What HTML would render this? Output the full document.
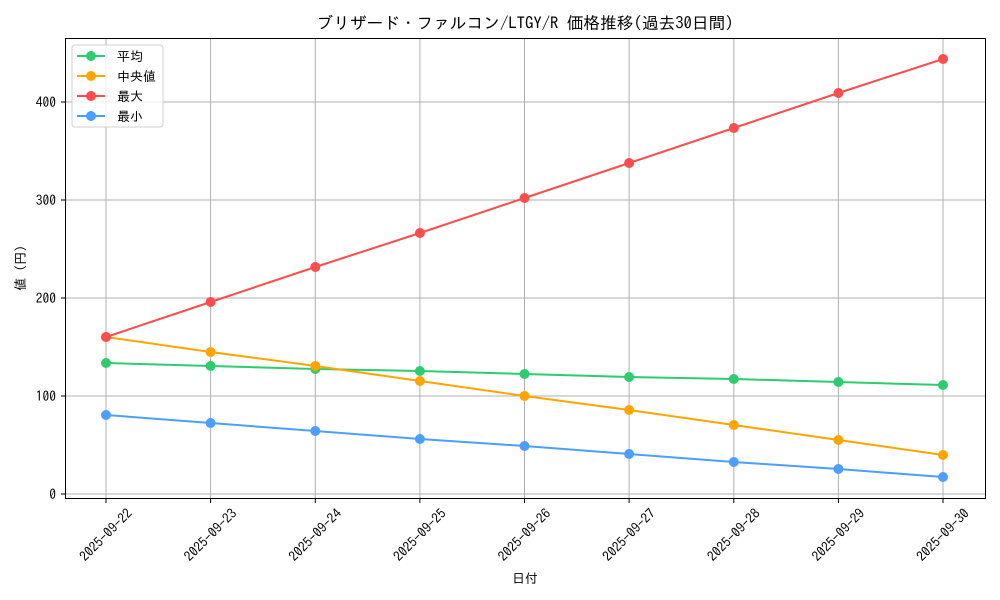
<!DOCTYPE html>
<html><head><meta charset="utf-8"><style>body{margin:0;background:#fff}svg{display:block}</style></head><body>
<svg width="1000" height="600" xmlns="http://www.w3.org/2000/svg" font-family="'IPAGothic','Noto Sans CJK JP',sans-serif">
<rect width="1000" height="600" fill="#fff"/>
<g stroke="#b0b0b0" stroke-width="1">
<line x1="106" y1="38.5" x2="106" y2="498.5"/><line x1="210.6" y1="38.5" x2="210.6" y2="498.5"/><line x1="315.3" y1="38.5" x2="315.3" y2="498.5"/><line x1="419.9" y1="38.5" x2="419.9" y2="498.5"/><line x1="524.5" y1="38.5" x2="524.5" y2="498.5"/><line x1="629.1" y1="38.5" x2="629.1" y2="498.5"/><line x1="733.8" y1="38.5" x2="733.8" y2="498.5"/><line x1="838.4" y1="38.5" x2="838.4" y2="498.5"/><line x1="943" y1="38.5" x2="943" y2="498.5"/>
<line x1="65.5" y1="494" x2="985.5" y2="494"/><line x1="65.5" y1="396" x2="985.5" y2="396"/><line x1="65.5" y1="298" x2="985.5" y2="298"/><line x1="65.5" y1="200" x2="985.5" y2="200"/><line x1="65.5" y1="102" x2="985.5" y2="102"/>
</g>
<g fill="none" stroke-width="2">
<polyline stroke="#2ecc71" points="106,363 210.6,366 315.3,369 419.9,371 524.5,374 629.1,377 733.8,379 838.4,382 943,385"/>
<polyline stroke="#ffa500" points="106,337 210.6,352 315.3,366 419.9,381 524.5,396 629.1,410 733.8,425 838.4,440 943,455"/>
<polyline stroke="#ff4c4c" points="106,337 210.6,302 315.3,267 419.9,233 524.5,198 629.1,163 733.8,128 838.4,93 943,59"/>
<polyline stroke="#4c9eff" points="106,415 210.6,423 315.3,431 419.9,439 524.5,446 629.1,454 733.8,462 838.4,469 943,477"/>
</g>
<g fill="#2ecc71"><circle cx="106" cy="363" r="5"/><circle cx="210.6" cy="366" r="5"/><circle cx="315.3" cy="369" r="5"/><circle cx="419.9" cy="371" r="5"/><circle cx="524.5" cy="374" r="5"/><circle cx="629.1" cy="377" r="5"/><circle cx="733.8" cy="379" r="5"/><circle cx="838.4" cy="382" r="5"/><circle cx="943" cy="385" r="5"/></g>
<g fill="#ffa500"><circle cx="106" cy="337" r="5"/><circle cx="210.6" cy="352" r="5"/><circle cx="315.3" cy="366" r="5"/><circle cx="419.9" cy="381" r="5"/><circle cx="524.5" cy="396" r="5"/><circle cx="629.1" cy="410" r="5"/><circle cx="733.8" cy="425" r="5"/><circle cx="838.4" cy="440" r="5"/><circle cx="943" cy="455" r="5"/></g>
<g fill="#ff4c4c"><circle cx="106" cy="337" r="5"/><circle cx="210.6" cy="302" r="5"/><circle cx="315.3" cy="267" r="5"/><circle cx="419.9" cy="233" r="5"/><circle cx="524.5" cy="198" r="5"/><circle cx="629.1" cy="163" r="5"/><circle cx="733.8" cy="128" r="5"/><circle cx="838.4" cy="93" r="5"/><circle cx="943" cy="59" r="5"/></g>
<g fill="#4c9eff"><circle cx="106" cy="415" r="5"/><circle cx="210.6" cy="423" r="5"/><circle cx="315.3" cy="431" r="5"/><circle cx="419.9" cy="439" r="5"/><circle cx="524.5" cy="446" r="5"/><circle cx="629.1" cy="454" r="5"/><circle cx="733.8" cy="462" r="5"/><circle cx="838.4" cy="469" r="5"/><circle cx="943" cy="477" r="5"/></g>
<rect x="65.5" y="38.5" width="920" height="460" fill="none" stroke="#000" stroke-width="1"/>
<g stroke="#000"><line x1="61" y1="494" x2="65.5" y2="494"/><line x1="61" y1="396" x2="65.5" y2="396"/><line x1="61" y1="298" x2="65.5" y2="298"/><line x1="61" y1="200" x2="65.5" y2="200"/><line x1="61" y1="102" x2="65.5" y2="102"/>
<line x1="106" y1="498.5" x2="106" y2="503"/><line x1="210.6" y1="498.5" x2="210.6" y2="503"/><line x1="315.3" y1="498.5" x2="315.3" y2="503"/><line x1="419.9" y1="498.5" x2="419.9" y2="503"/><line x1="524.5" y1="498.5" x2="524.5" y2="503"/><line x1="629.1" y1="498.5" x2="629.1" y2="503"/><line x1="733.8" y1="498.5" x2="733.8" y2="503"/><line x1="838.4" y1="498.5" x2="838.4" y2="503"/><line x1="943" y1="498.5" x2="943" y2="503"/></g>
<g font-size="13.5" text-anchor="end" fill="#000"><text x="56" y="499">0</text><text x="56" y="401">100</text><text x="56" y="303">200</text><text x="56" y="205">300</text><text x="56" y="107">400</text></g>
<g font-size="13.5" text-anchor="middle" fill="#000">
<text transform="translate(106,535) rotate(-45)" dy="4.5">2025-09-22</text>
<text transform="translate(210.6,535) rotate(-45)" dy="4.5">2025-09-23</text>
<text transform="translate(315.3,535) rotate(-45)" dy="4.5">2025-09-24</text>
<text transform="translate(419.9,535) rotate(-45)" dy="4.5">2025-09-25</text>
<text transform="translate(524.5,535) rotate(-45)" dy="4.5">2025-09-26</text>
<text transform="translate(629.1,535) rotate(-45)" dy="4.5">2025-09-27</text>
<text transform="translate(733.8,535) rotate(-45)" dy="4.5">2025-09-28</text>
<text transform="translate(838.4,535) rotate(-45)" dy="4.5">2025-09-29</text>
<text transform="translate(943,535) rotate(-45)" dy="4.5">2025-09-30</text>
</g>
<text x="525" y="583" font-size="13" text-anchor="middle">日付</text>
<text transform="translate(25,268) rotate(-90)" font-size="13" text-anchor="middle">値 (円)</text>
<text x="525" y="29" font-size="16.7" text-anchor="middle">ブリザード・ファルコン/LTGY/R 価格推移(過去30日間)</text>
<rect x="72" y="45" width="91" height="82" rx="3" fill="#fff" fill-opacity="0.8" stroke="#d0d0d0"/>
<g stroke-width="2"><line x1="77" y1="56" x2="105" y2="56" stroke="#2ecc71"/><line x1="77" y1="76" x2="105" y2="76" stroke="#ffa500"/><line x1="77" y1="96" x2="105" y2="96" stroke="#ff4c4c"/><line x1="77" y1="116" x2="105" y2="116" stroke="#4c9eff"/></g>
<circle cx="91" cy="56" r="5" fill="#2ecc71"/><circle cx="91" cy="76" r="5" fill="#ffa500"/><circle cx="91" cy="96" r="5" fill="#ff4c4c"/><circle cx="91" cy="116" r="5" fill="#4c9eff"/>
<g font-size="13"><text x="117" y="61">平均</text><text x="117" y="81">中央値</text><text x="117" y="101">最大</text><text x="117" y="121">最小</text></g>
</svg>
</body></html>
